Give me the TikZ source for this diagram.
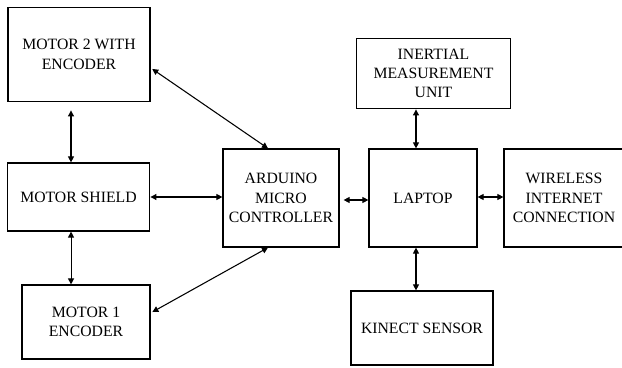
\documentclass[tikz,border=0pt]{standalone}
\usepackage{fontspec}
\setmainfont{Liberation Serif}
\usepackage{tikz}
\usetikzlibrary{arrows.meta,calc,positioning}
\tikzset{block/.style={
    draw,
    line width=0.9pt,
    align=center,
    inner sep=2pt,
    font=\fontsize{11.8}{14.5}\selectfont
  },
  link/.style={
    {Triangle[length=4.5pt,width=4.5pt]}-{Triangle[length=4.5pt,width=4.5pt]},
    line width=0.8pt
  }
}

\begin{document}
\begin{tikzpicture}[x=0.75pt,y=-0.75pt]
    \useasboundingbox (0,0) rectangle (622,368);
    % left column
    \node[block, minimum width=106.5pt, minimum height=71pt] (motor2) at (79,54.5) {MOTOR 2 WITH\\ENCODER};
    \node[block, minimum width=107pt, minimum height=51pt] (shield) at (78.5,197) {MOTOR SHIELD};
    \node[block, minimum width=96pt, minimum height=55.5pt] (motor1) at (86,322) {MOTOR 1\\ENCODER};
    % middle and right
    \node[block, minimum width=87pt, minimum height=73.5pt] (arduino) at (281,198) {ARDUINO\\MICRO\\CONTROLLER};
    \node[block, minimum width=81pt, minimum height=73.5pt] (laptop) at (423,198) {LAPTOP};
    \node[block, minimum width=116pt, minimum height=53pt] (imu) at (433.5,73.5) {INERTIAL\\MEASUREMENT\\UNIT};
    \node[block, minimum width=106.5pt, minimum height=55.5pt] (kinect) at (422,328) {KINECT SENSOR};
    \node[block, minimum width=90pt, minimum height=73.5pt] (wireless) at (564,198) {WIRELESS\\INTERNET\\CONNECTION};
    % connections
    \draw[link, shorten <=1.5pt] ([yshift=-10pt]motor2.east) -- ([xshift=-9.75pt]arduino.north);
    \draw[link, shorten <=6pt] ([xshift=-6pt]motor2.south) -- ([xshift=-6pt]motor2.south |- shield.north);
    \draw[link] (shield.east) -- (shield.east -| arduino.west);
    \draw[link] ([xshift=-5.6pt]shield.south) -- ([xshift=-5.6pt]shield.south |- motor1.north);
    \draw[link, shorten <=1.5pt] ([yshift=6.75pt]motor1.east) -- ([xshift=-9.75pt]arduino.south);
    \draw[link, shorten <=3pt] ([yshift=-1.5pt]arduino.east) -- ([yshift=-1.5pt]laptop.west);
    \draw[link] ([yshift=0.75pt]laptop.east) -- ([yshift=0.75pt]laptop.east -| wireless.west);
    \draw[link] ([xshift=-5.25pt]laptop.north) -- ([xshift=-5.25pt]laptop.north |- imu.south);
    \draw[link] ([xshift=-5.25pt]laptop.south) -- ([xshift=-5.25pt]laptop.south |- kinect.north);
\end{tikzpicture}
\end{document}
